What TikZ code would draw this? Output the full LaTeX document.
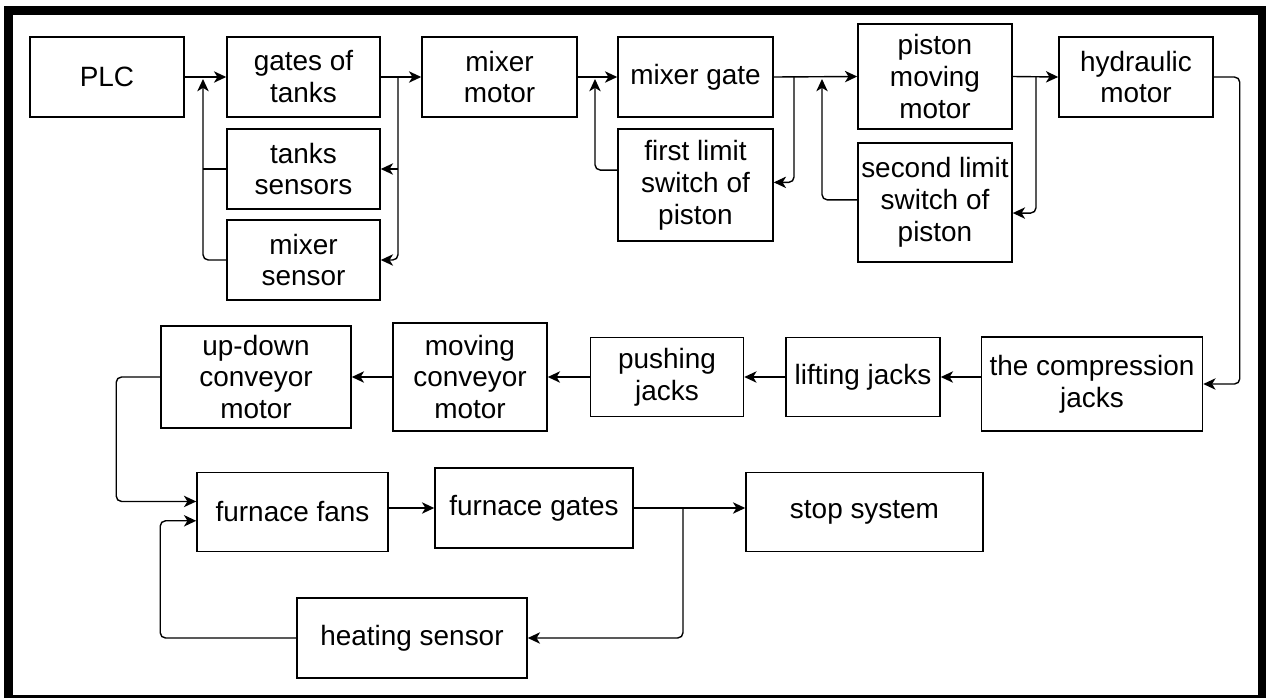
\documentclass[tikz,border=0pt]{standalone}
\usepackage{fontspec}
\setmainfont{Liberation Sans}
\usepackage{tikz}
\usetikzlibrary{arrows.meta}

\begin{document}
\begin{tikzpicture}[
  x=0.02cm,
  y=-0.02cm,
  box/.style={
      rectangle,
      draw,
      line width=0.9pt,
      text centered,
      align=center,
      inner sep=1pt,
      minimum height=1.6cm,
      minimum width=3.08cm,
      font=\fontsize{15.9}{18.2}\selectfont,
      fill=white
  },
  arrow/.style={
      -{Stealth[length=7pt,width=6.5pt,inset=2pt]},
      thick
  },
  roundarrow/.style={
      arrow,
      rounded corners=3pt
  }
]

\useasboundingbox (0,0) rectangle (1275,697);

% ==================================================
% Frame
% ==================================================

\draw[line width=5pt] (8.5,10.5) rectangle (1262,699);

% ==================================================
% Tanks and Mixer
% ==================================================

\node[box] (plc) at (107,77)
      {PLC};

\node[box,
      minimum width=3.06cm]
      (gates) at (303.5,77)
      {gates of\\tanks};

\node[box,
      minimum width=3.06cm]
      (tanksens) at (303.5,169)
      {tanks\\sensors};

\node[box,
      minimum width=3.06cm]
      (mixsens) at (303.5,260)
      {mixer\\sensor};

\node[box,
      minimum width=3.1cm]
      (mixmot) at (499.5,77)
      {mixer\\motor};

\node[box,
      minimum width=3.1cm]
      (mixgate) at (695.5,77)
      {mixer gate};

\node[box,
      minimum width=3.1cm,
      minimum height=2.24cm]
      (lim1) at (695.5,185)
      {first limit\\switch of\\piston};

% ==================================================
% Piston and Hydraulic
% ==================================================

\node[box,
      minimum height=2.1cm]
      (pistmot) at (935,76.5)
      {piston\\moving\\motor};

\node[box,
      minimum height=2.38cm]
      (lim2) at (935,202.5)
      {second limit\\switch of\\piston};

\node[box] (hydr) at (1136,77)
      {hydraulic\\motor};

% ==================================================
% Jacks and Conveyors
% ==================================================

\node[box,
      minimum width=4.42cm,
      minimum height=1.88cm]
      (comp) at (1092,384)
      {the compression\\jacks};

\node[box,
      minimum height=1.58cm]
      (lift) at (863,377)
      {lifting jacks};

\node[box,
      minimum width=3.06cm,
      minimum height=1.58cm]
      (push) at (667,377)
      {pushing\\jacks};

\node[box,
      minimum height=2.16cm]
      (movconv) at (470,377)
      {moving\\conveyor\\motor};

\node[box,
      minimum width=3.8cm,
      minimum height=2.04cm]
      (updown) at (256,377)
      {up-down\\conveyor\\motor};

% ==================================================
% Furnace
% ==================================================

\node[box,
      minimum width=3.82cm,
      minimum height=1.58cm]
      (fans) at (292.5,512)
      {furnace fans};

\node[box,
      minimum width=3.96cm]
      (fgates) at (534,508)
      {furnace gates};

\node[box,
      minimum width=4.74cm,
      minimum height=1.58cm]
      (stop) at (864.5,512)
      {stop system};

\node[box,
      minimum width=4.6cm]
      (heat) at (412,638)
      {heating sensor};

% ==================================================
% Branch Points
% ==================================================

\coordinate (gbr) at (398,77);
\coordinate (gfb) at (203,79);
\coordinate (mbr) at (794,77);
\coordinate (mfb) at (595,79);
\coordinate (pfb) at (822,79);
\coordinate (pbr) at (1036,77);
\coordinate (fbr) at (683,508);

% ==================================================
% Upper Flow
% ==================================================

\draw[arrow]
      (plc.east)
      -- (gates.west);

\draw[arrow]
      (gates.east)
      -- (mixmot.west);

\draw[roundarrow]
      (gbr)
      |- (mixsens.east);

\draw[arrow]
      (gbr |- tanksens.east)
      -- (tanksens.east);

\draw[roundarrow]
      (mixsens.west)
      -| (gfb);

\draw[thick]
      (tanksens.west)
      -- (tanksens.west -| gfb);

\draw[arrow]
      (mixmot.east)
      -- (mixgate.west);

\draw[arrow]
      (mixgate.east)
      -- (pistmot.west);

\draw[roundarrow]
      (mbr)
      |- ([yshift=1.5pt]lim1.east);

\draw[roundarrow]
      ([yshift=8.5pt]lim1.west)
      -| (mfb);

\draw[roundarrow]
      ([yshift=1.5pt]lim2.west)
      -| (pfb);

\draw[arrow]
      (pistmot.east)
      -- (hydr.west);

\draw[roundarrow]
      (pbr)
      |- ([yshift=-6pt]lim2.east);

\draw[roundarrow]
      (hydr.east)
      -- ++(26,0)
      |- (comp.east);

% ==================================================
% Lower Flow
% ==================================================

\draw[arrow]
      (lift.east -| comp.west)
      -- (lift.east);

\draw[arrow]
      (lift.west)
      -- (push.east);

\draw[arrow]
      (push.west)
      -- (movconv.east);

\draw[arrow]
      (movconv.west)
      -- (updown.east);

\draw[roundarrow]
      (updown.west)
      -- ++(-44,0)
      |- ([yshift=6pt]fans.west);

\draw[arrow]
      (fans.east |- fgates.west)
      -- (fgates.west);

\draw[arrow]
      (fgates.east)
      -- (fgates.east -| stop.west);

\draw[roundarrow]
      (fbr)
      |- (heat.east);

\draw[roundarrow]
      (heat.west)
      -- ++(-136,0)
      |- ([yshift=-5pt]fans.west);

\end{tikzpicture}
\end{document}
